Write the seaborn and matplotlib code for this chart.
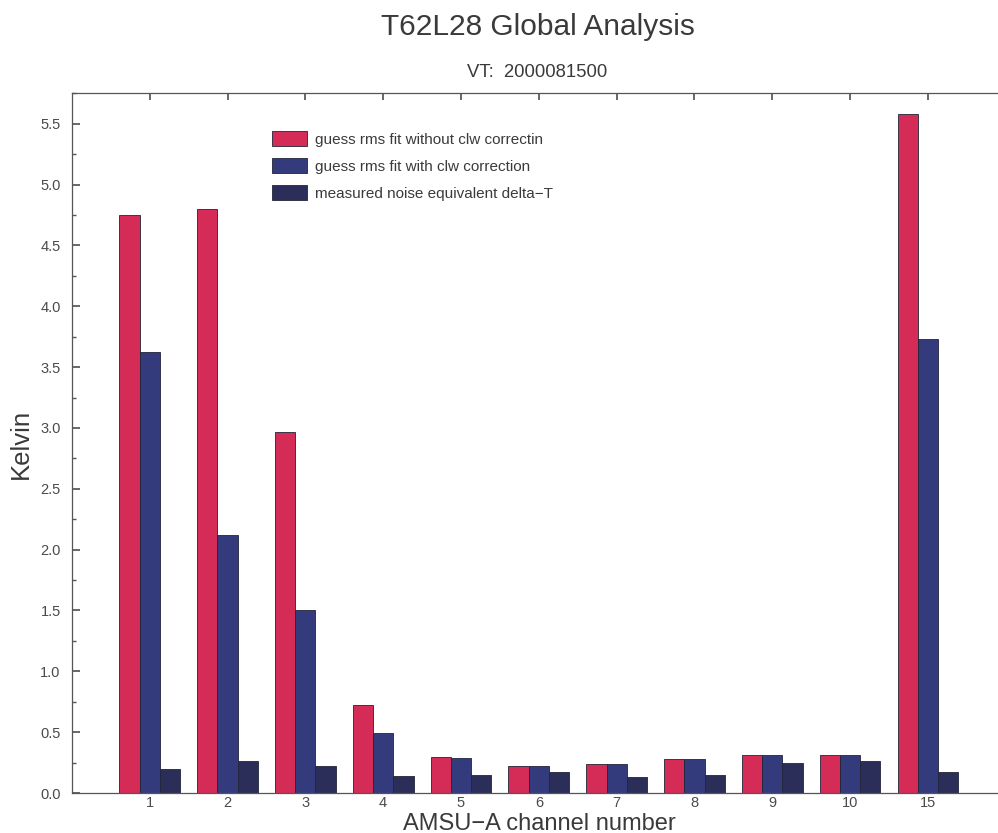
import matplotlib
matplotlib.use("Agg")
import matplotlib.pyplot as plt
from matplotlib.ticker import MultipleLocator, FormatStrFormatter
import seaborn as sns
import pandas as pd

# AMSU-A channels and per-channel statistics (Kelvin)
channels = ["1", "2", "3", "4", "5", "6", "7", "8", "9", "10", "15"]
rms_no_clw = [4.75, 4.80, 2.97, 0.72, 0.30, 0.22, 0.24, 0.28, 0.31, 0.31, 5.58]
rms_clw = [3.62, 2.12, 1.50, 0.49, 0.29, 0.22, 0.24, 0.28, 0.31, 0.31, 3.73]
nedt = [0.20, 0.26, 0.22, 0.14, 0.15, 0.17, 0.13, 0.15, 0.25, 0.26, 0.17]

series_names = [
    "guess rms fit without clw correctin",
    "guess rms fit with clw correction",
    "measured noise equivalent delta\u2212T",
]
series_colors = ["#d42b57", "#343b7c", "#2b2e58"]

frames = []
for name, vals in zip(series_names, [rms_no_clw, rms_clw, nedt]):
    frames.append(pd.DataFrame({"channel": channels, "value": vals, "series": name}))
df = pd.concat(frames, ignore_index=True)

sns.set_theme(style="ticks")
plt.rcParams["font.family"] = ["Liberation Sans", "DejaVu Sans"]
text_color = "#3a3a3a"

fig = plt.figure(figsize=(9.98, 8.33), dpi=100)
ax = fig.add_axes([0.072, 0.048, 0.928, 0.84])

sns.barplot(
    data=df, x="channel", y="value", hue="series", order=channels,
    hue_order=series_names, palette=series_colors, width=0.78,
    edgecolor="#22243a", linewidth=0.6, saturation=1, ax=ax, legend=True,
)

ax.set_xlim(-1.0, 10.9)
ax.set_ylim(0, 5.75)
ax.yaxis.set_major_locator(MultipleLocator(0.5))
ax.yaxis.set_minor_locator(MultipleLocator(0.25))
ax.yaxis.set_major_formatter(FormatStrFormatter("%.1f"))

for side in ["left", "bottom", "top"]:
    ax.spines[side].set_visible(True)
    ax.spines[side].set_color("#555555")
    ax.spines[side].set_linewidth(0.9)
ax.spines["right"].set_visible(False)

ax.tick_params(axis="both", which="both", direction="in", colors="#555555",
               labelcolor="#4a4a4a", labelsize=10.5)
ax.tick_params(axis="x", top=True, bottom=True, length=5, pad=2.5)
ax.tick_params(axis="y", which="major", length=6, pad=8)
ax.tick_params(axis="y", which="minor", length=3)

ax.set_xlabel("")
ax.set_ylabel("")
fig.text(0.540, 0.004, "AMSU\u2212A channel number", ha="center", va="baseline",
         fontsize=17, color=text_color)
fig.text(0.021, 0.467, "Kelvin", ha="center", va="center", rotation=90,
         fontsize=18.5, color=text_color)

fig.text(0.539, 0.967, "T62L28 Global Analysis", ha="center", va="center",
         fontsize=21.5, color=text_color)
fig.text(0.538, 0.913, "VT:  2000081500", ha="center", va="center",
         fontsize=13.3, color=text_color)

leg = ax.legend(loc="upper left", bbox_to_anchor=(0.216, 0.946), frameon=False,
                fontsize=11, handlelength=2.3, handleheight=1.1, labelspacing=0.75,
                handletextpad=0.5, borderpad=0, borderaxespad=0)
for t in leg.get_texts():
    t.set_color(text_color)

fig.savefig("out.png", dpi=100, facecolor="white")
